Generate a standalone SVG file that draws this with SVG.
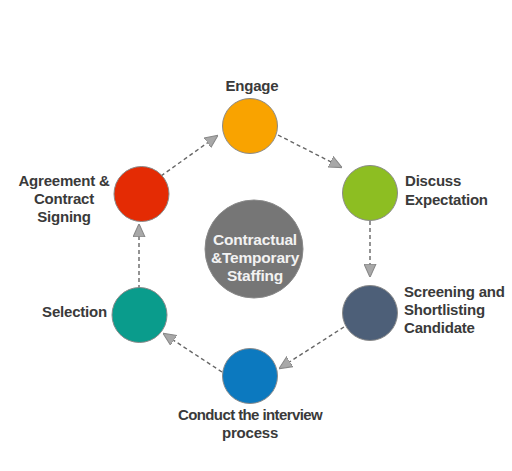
<svg xmlns="http://www.w3.org/2000/svg" width="512" height="471" viewBox="0 0 512 471">
<defs>
<style>
.lbl{font-family:"Liberation Sans",Arial,sans-serif;font-weight:bold;font-size:15px;fill:#3a3a3a;letter-spacing:-0.2px}
.ctr{font-family:"Liberation Sans",Arial,sans-serif;font-weight:bold;font-size:15.5px;fill:#f2f2f2;text-anchor:middle;letter-spacing:-0.2px}
.node{stroke:#8a8a8a;stroke-width:1}
.conn{stroke:#666;stroke-width:1.4;stroke-dasharray:4 3;fill:none}
</style>
<marker id="ah" viewBox="0 0 10 10" refX="9" refY="5" markerWidth="13" markerHeight="13" markerUnits="userSpaceOnUse" orient="auto">
<path d="M0,0.5 L10,5 L0,9.5 Z" fill="#a8a8a8" stroke="#888" stroke-width="0.8"/>
</marker>
</defs>
<rect width="512" height="471" fill="#fff"/>
<g id="connectors">
<line class="conn" x1="161" y1="176" x2="217" y2="136" marker-end="url(#ah)"/>
<line class="conn" x1="278" y1="135" x2="341" y2="167" marker-end="url(#ah)"/>
<line class="conn" x1="370" y1="221" x2="370" y2="276" marker-end="url(#ah)"/>
<line class="conn" x1="344" y1="327" x2="280" y2="368" marker-end="url(#ah)"/>
<line class="conn" x1="222" y1="372" x2="164" y2="334" marker-end="url(#ah)"/>
<line class="conn" x1="139" y1="289" x2="139" y2="225" marker-end="url(#ah)"/>
</g>
<g id="center">
<circle class="node" cx="254" cy="249" r="49" fill="#767676"/>
<text class="ctr" x="255" y="245">Contractual</text>
<text class="ctr" x="255" y="263">&amp;Temporary</text>
<text class="ctr" x="255" y="281">Staffing</text>
</g>
<g id="engage">
<circle class="node" cx="250" cy="126" r="27.5" fill="#F9A300"/>
<text class="lbl" x="252" y="91" text-anchor="middle">Engage</text>
</g>
<g id="discuss">
<circle class="node" cx="370" cy="193" r="27.5" fill="#8DBE22"/>
<text class="lbl" x="405" y="186">Discuss</text>
<text class="lbl" x="405" y="205">Expectation</text>
</g>
<g id="screening">
<circle class="node" cx="370" cy="313" r="27.5" fill="#4D5F78"/>
<text class="lbl" x="404" y="297">Screening and</text>
<text class="lbl" x="404" y="315">Shortlisting</text>
<text class="lbl" x="404" y="333">Candidate</text>
</g>
<g id="conduct">
<circle class="node" cx="250" cy="376" r="27.5" fill="#0C79BF"/>
<text class="lbl" x="250" y="420" text-anchor="middle" style="letter-spacing:-0.6px">Conduct the interview</text>
<text class="lbl" x="250" y="438" text-anchor="middle">process</text>
</g>
<g id="selection">
<circle class="node" cx="139.5" cy="315" r="27.5" fill="#0A9C8C"/>
<text class="lbl" x="107" y="317" text-anchor="end">Selection</text>
</g>
<g id="agreement">
<circle class="node" cx="141.5" cy="194" r="27.5" fill="#E42B04"/>
<text class="lbl" x="64" y="186" text-anchor="middle">Agreement &amp;</text>
<text class="lbl" x="64" y="204" text-anchor="middle">Contract</text>
<text class="lbl" x="64" y="222" text-anchor="middle">Signing</text>
</g>
</svg>
